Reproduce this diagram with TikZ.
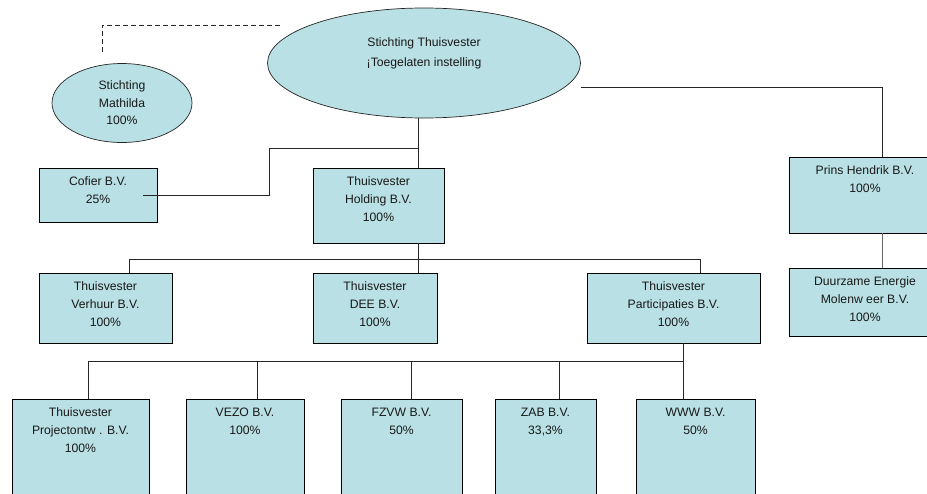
\documentclass[tikz,border=0pt]{standalone}
\usepackage{fontspec}
\setmainfont{Liberation Sans}
\usepackage{xcolor}
\usepackage{tikz}
\usetikzlibrary{shapes.geometric}
\definecolor{bvfill}{RGB}{185,224,228}
\tikzset{
    tnode/.style = {align=center, inner sep=0pt, text=black!90, font=\fontsize{12.2}{18}\selectfont},
    txt/.style = {tnode, anchor=north, yshift=-9pt},
    bv_node/.style = {rectangle, draw=black, fill=bvfill, line width=0.8pt, inner sep=0pt},
    st_node/.style = {ellipse, draw=black!85, fill=bvfill, line width=0.7pt, inner sep=0pt},
    conn/.style = {draw=black!85, line width=0.8pt}
}

\begin{document}
\begin{tikzpicture}[x=1pt, y=-1pt]
    \useasboundingbox (0,0) rectangle (927,493);
    % stichtingen
    \node [st_node, minimum width=313pt, minimum height=110pt] (top) at (424,63) {};
    \node [tnode, anchor=north, font=\fontsize{12.2}{20}\selectfont] (top_t) at ([yshift=-30pt]top.north)
        {Stichting Thuisvester\\¡Toegelaten instelling};
    \node [st_node, minimum width=140pt, minimum height=79pt] (mat) at (122,103)
        [tnode, font=\fontsize{12.2}{17.5}\selectfont] {Stichting\\Mathilda\\100\%};
    % B.V.'s
    \node [bv_node, minimum width=118pt, minimum height=54pt, label={[txt]north:{Cofier B.V.\\25\%}}] (cof) at (98,195) {};
    \node [bv_node, minimum width=131pt, minimum height=75pt, label={[txt]north:{Thuisvester\\Holding B.V.\\100\%}}] (hold) at (378.5,205.5) {};
    \node [bv_node, minimum width=152pt, minimum height=76pt, label={[txt]north:{Prins Hendrik B.V.\\100\%}}] (prins) at (865,195) {};
    \node [bv_node, minimum width=152pt, minimum height=68pt, label={[txt]north:{Duurzame Energie\\Molenw eer B.V.\\100\%}}] (duur) at (865,302) {};
    \node [bv_node, minimum width=133pt, minimum height=70pt, label={[txt]north:{Thuisvester\\Verhuur B.V.\\100\%}}] (verh) at (105.5,308) {};
    \node [bv_node, minimum width=124pt, minimum height=70pt, label={[txt]north:{Thuisvester\\DEE B.V.\\100\%}}] (dee) at (375,308) {};
    \node [bv_node, minimum width=173pt, minimum height=70pt, label={[txt]north:{Thuisvester\\Participaties B.V.\\100\%}}] (part) at (673.5,308) {};
    \node [bv_node, minimum width=137pt, minimum height=101pt, label={[txt]north:{Thuisvester\\Projectontw . B.V.\\100\%}}] (proj) at (80.5,449.5) {};
    \node [bv_node, minimum width=118pt, minimum height=101pt, label={[txt]north:{VEZO B.V.\\100\%}}] (vezo) at (245,449.5) {};
    \node [bv_node, minimum width=121pt, minimum height=101pt, label={[txt]north:{FZVW B.V.\\50\%}}] (fzvw) at (401.5,449.5) {};
    \node [bv_node, minimum width=101pt, minimum height=101pt, label={[txt]north:{ZAB B.V.\\33,3\%}}] (zab) at (545.5,449.5) {};
    \node [bv_node, minimum width=119pt, minimum height=101pt, label={[txt]north:{WWW B.V.\\50\%}}] (www) at (695.5,449.5) {};
    % lijnen
    \coordinate (d_mat) at (102,52);
    \coordinate (d_top) at (280,25);
    \draw [conn, dash pattern=on 5pt off 3pt] (d_mat) |- (d_top);
    \coordinate (j_hold) at (418,148);
    \coordinate (j_cof) at (269,148);
    \draw [conn] (top.south -| j_hold) -- (hold.north -| j_hold);
    \draw [conn] ([xshift=45pt]cof.center) -| (j_cof) -- (j_hold);
    \coordinate (j_prins) at (882,87);
    \draw [conn] (top.east |- j_prins) -- (j_prins) -- (prins.north -| j_prins);
    \draw [conn, draw=black!60] (prins.south -| j_prins) -- (duur.north -| j_prins);
    \coordinate (j_row2) at (418,259);
    \draw [conn] (hold.south -| j_row2) -- (j_row2);
    \foreach \n/\s in {verh/23.5, dee/43, part/26.5}
        \draw [conn] ([xshift=\s pt]\n.north) |- (j_row2);
    \coordinate (j_row3) at (683,361);
    \draw [conn] (part.south -| j_row3) -- (j_row3);
    \foreach \n/\s in {proj/7.5, vezo/12, fzvw/9.5, zab/13.5, www/-12.5}
        \draw [conn] ([xshift=\s pt]\n.north) |- (j_row3);
\end{tikzpicture}
\end{document}
